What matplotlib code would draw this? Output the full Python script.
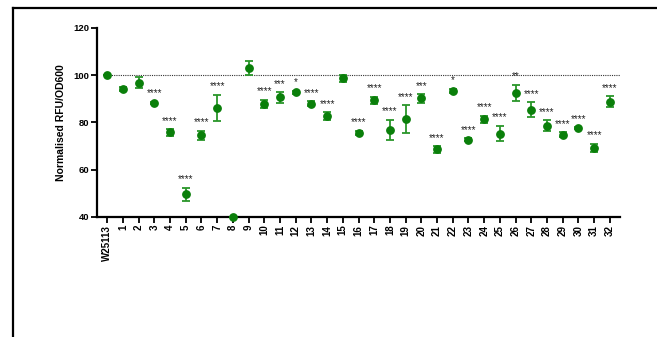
import matplotlib
matplotlib.use("Agg")
import matplotlib.pyplot as plt
from matplotlib.lines import Line2D
import numpy as np

plt.rcParams['font.family'] = ['Liberation Sans', 'DejaVu Sans']

categories = ["W25113"] + [str(i) for i in range(1, 33)]
means = [100.0, 94.3, 96.8, 88.3, 75.8, 49.6, 74.5, 86.2, 40.0, 103.2,
         87.9, 90.6, 92.7, 87.9, 82.8, 98.7, 75.6, 89.5, 76.8, 81.3,
         90.2, 68.6, 93.4, 72.8, 81.3, 75.3, 92.6, 85.5, 78.6, 74.8,
         77.5, 69.3, 88.8]
errors = [0.0, 0.9, 2.3, 0.5, 1.4, 2.8, 1.9, 5.5, 0.0, 3.0,
          1.8, 2.2, 0.8, 1.0, 1.6, 1.5, 0.8, 1.5, 4.3, 5.9,
          1.8, 1.4, 0.8, 0.5, 1.6, 3.3, 3.4, 3.0, 2.3, 1.1,
          0.4, 1.7, 2.3]
stars = ["", "", "", "****", "****", "****", "****", "****", "", "",
         "****", "***", "*", "****", "****", "", "****", "****", "****", "****",
         "***", "****", "*", "****", "****", "****", "**", "****", "****", "****",
         "****", "****", "****"]

W, H = 657, 337
fig = plt.figure(figsize=(W / 100, H / 100), dpi=100)
ax = fig.add_axes([97 / W, 1 - 217 / H, (620 - 97) / W, (217 - 28) / H])

x = np.arange(len(categories))
ax.axhline(100, xmin=(0 - (-0.65)) / 33.3, xmax=1, color='#333333', ls=(0, (1, 1)), lw=0.8, zorder=1)

ax.errorbar(x, means, yerr=errors, fmt='o', color='#0a7f0a', ecolor='#2a962a',
            markersize=5.3, elinewidth=1.3, capsize=3, capthick=1.3, zorder=3, clip_on=False)

for xi, m, e, s in zip(x, means, errors, stars):
    if s:
        ax.annotate(s, (xi, m + e), xytext=(0, 2.5), textcoords='offset points',
                    ha='center', va='bottom', fontsize=7, color='#222222')

ax.set_xlim(-0.65, 32.65)
ax.set_ylim(40, 120)
ax.set_yticks([40, 60, 80, 100, 120])
ax.set_xticks(x)
ax.set_xticklabels(categories, rotation=90, fontsize=7, fontweight='bold')
for lab in ax.get_yticklabels():
    lab.set_fontweight('bold')
    lab.set_fontsize(6.8)
ax.set_ylabel("Normalised RFU/OD600", fontsize=7.5, fontweight='bold', labelpad=5)

for sp in ['top', 'right']:
    ax.spines[sp].set_visible(False)
for sp in ['left', 'bottom']:
    ax.spines[sp].set_linewidth(1.6)
ax.tick_params(axis='both', direction='out', width=1.3, length=4, pad=1.5)

# outer frame (top and left edges)
fig.add_artist(Line2D([13 / W, 1.0], [1 - 8 / H, 1 - 8 / H], color='black', lw=1.6, transform=fig.transFigure))
fig.add_artist(Line2D([13 / W, 13 / W], [1 - 8 / H, 0.0], color='black', lw=1.6, transform=fig.transFigure))

fig.savefig("out.png", dpi=100)
